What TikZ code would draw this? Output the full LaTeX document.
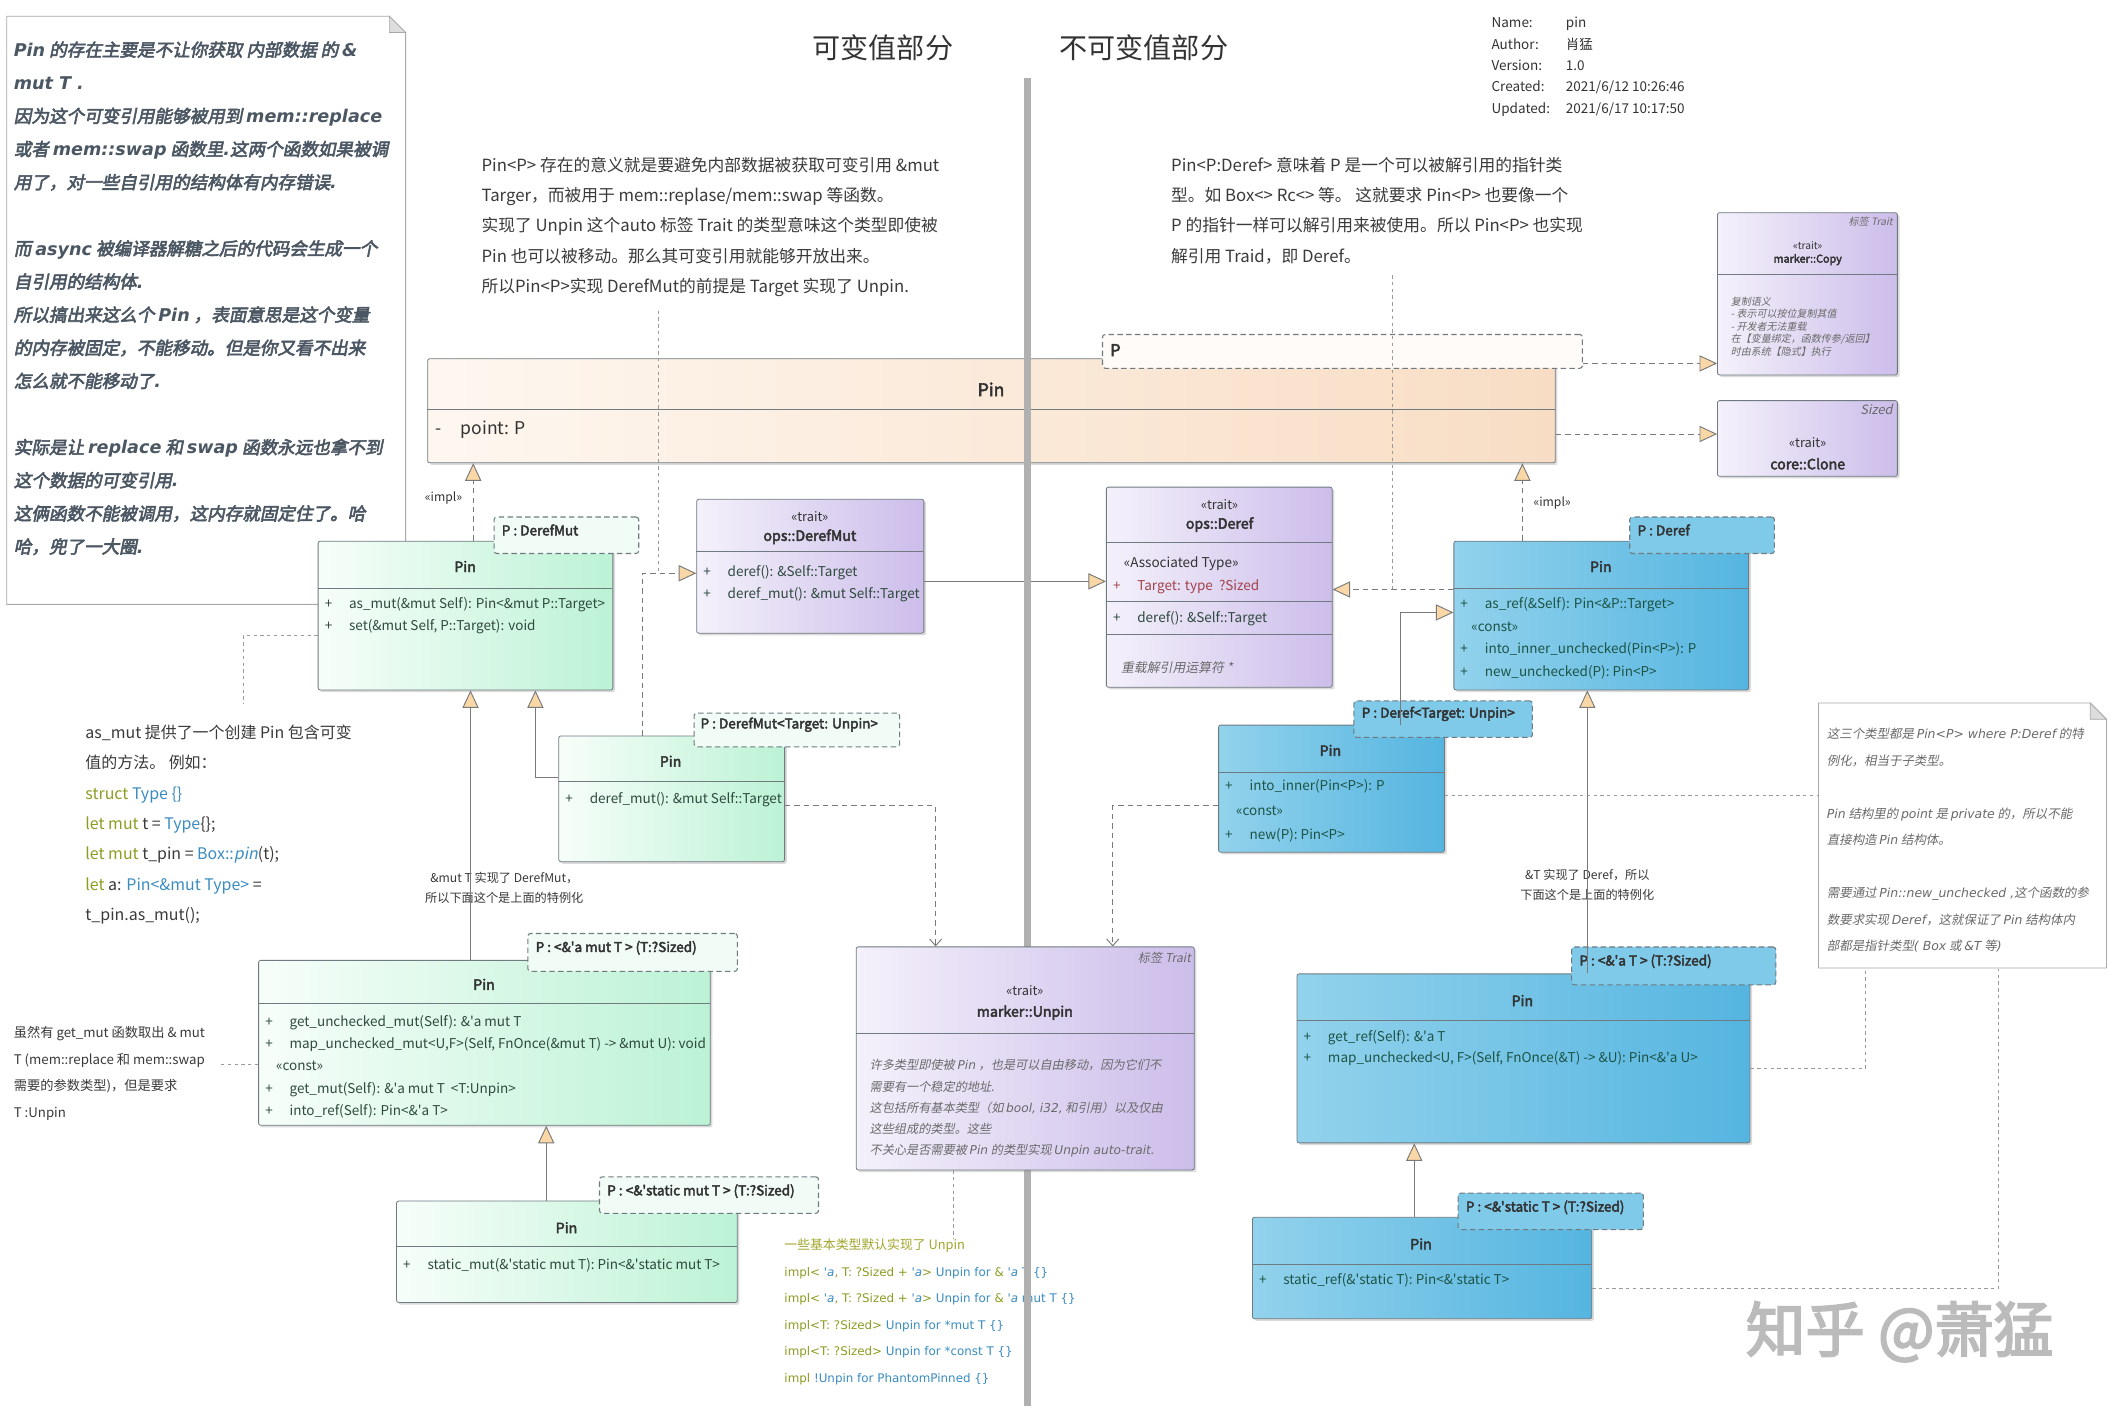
\documentclass[tikz,border=0pt]{standalone}
\usepackage{fontspec}
\setmainfont{Noto Sans CJK SC}[AutoFakeBold=3.2,AutoFakeSlant=0.2]
\newfontfamily\dvf{DejaVu Sans}
\usetikzlibrary{shadows,arrows.meta}
\definecolor{bord}{HTML}{6F7B80}
\definecolor{conn}{HTML}{7A7A7A}
\definecolor{notel}{HTML}{9A9A9A}
\definecolor{tri}{HTML}{FAD7A6}
\definecolor{titc}{HTML}{333333}
\definecolor{memc}{HTML}{2F4A3E}
\definecolor{bmemc}{HTML}{1D5446}
\definecolor{grnL}{HTML}{F7FEFA}
\definecolor{grnR}{HTML}{BCF2D5}
\definecolor{grnT}{HTML}{F1FCF6}
\definecolor{purL}{HTML}{F4F1FB}
\definecolor{purR}{HTML}{CCBDEA}
\definecolor{bluL}{HTML}{92D2EC}
\definecolor{bluR}{HTML}{55B5E0}
\definecolor{bluT}{HTML}{7FC9E9}
\definecolor{peaL}{HTML}{FEF7F0}
\definecolor{peaR}{HTML}{F8DDC4}
\definecolor{peaT}{HTML}{FEFBF8}
\definecolor{notetx}{HTML}{4B5763}
\definecolor{graytx}{HTML}{6A6A6A}
\definecolor{paratx}{HTML}{3A3A3A}
\definecolor{olive}{HTML}{8E9C22}
\definecolor{implY}{HTML}{A2A52A}
\definecolor{codeb}{HTML}{3A8CC1}
\definecolor{attrred}{HTML}{A3434B}
\definecolor{vgray}{HTML}{B0B0B0}
\definecolor{wmark}{HTML}{BBBBBB}
\definecolor{noteb}{HTML}{A8A8A8}
\definecolor{fold}{HTML}{DDDDDD}
\newcommand\fs[2]{\fontsize{#1}{#2}\selectfont}
\newcommand\q{\textquotesingle}
\newcommand\memtab[1]{\begin{tabular}{@{}p{18pt}@{}l@{}}#1\end{tabular}}
\newcommand\cstrow{\multicolumn{2}{@{\hspace{8pt}}l@{}}{«const»}}
\begin{document}
\begin{tikzpicture}[x=1pt,y=-1pt,
  cls/.style={draw=bord, line width=0.6pt, rounded corners=1.5pt, anchor=north west, inner sep=0pt,
    drop shadow={shadow xshift=1.6pt, shadow yshift=-1.6pt, opacity=0.35, fill=black!40}},
  grn/.style={cls, left color=grnL, right color=grnR},
  pur/.style={cls, left color=purL, right color=purR},
  blu/.style={cls, left color=bluL, right color=bluR},
  pea/.style={cls, left color=peaL, right color=peaR},
  tmpl/.style={draw=bord, line width=0.8pt, dash pattern=on 4pt off 2.5pt, rounded corners=2pt, anchor=north west, inner sep=0pt},
  div/.style={draw=bord, line width=0.6pt},
  ttl/.style={inner sep=0pt, font=\fs{10.5}{12}\bfseries, text=titc},
  ster/.style={inner sep=0pt, font=\fs{9.5}{11}, text=titc},
  tlab/.style={inner sep=0pt, anchor=west, font=\fs{10}{12}\bfseries, text=titc},
  mem/.style={inner sep=0pt, anchor=north west, font=\fs{10}{16.5}, text=memc},
  bmem/.style={mem, text=bmemc},
  gen/.style={draw=conn, line width=0.7pt, -{Triangle[length=13pt, width=12pt, fill=tri]}},
  implarr/.style={gen, dash pattern=on 4pt off 3pt},
  dep/.style={draw=conn, line width=0.7pt, dash pattern=on 4pt off 3pt, -{Straight Barb[length=5pt, width=9pt]}},
  nlink/.style={draw=notel, line width=0.6pt, dash pattern=on 2.5pt off 2.5pt},
  para/.style={inner sep=0pt, anchor=north west, align=left, text=paratx},
  lab/.style={inner sep=0pt, font=\fs{9}{15}, text=paratx, align=center}
]
\path[use as bounding box, fill=white] (0,0) rectangle (1568,1046);

% ---------- left note ----------
\node[inner sep=0pt, minimum width=295pt, minimum height=435pt, anchor=north west] (noteL) at (5,12) {};
\filldraw[fill=white, draw=noteb, line width=0.6pt] (5,12) -- (288,12) -- (300,24) -- (300,447) -- (5,447) -- cycle;
\filldraw[fill=fold, draw=noteb, line width=0.5pt] (288,12) -- (288,24) -- (300,24) -- cycle;
\node[para, font=\fs{13}{24.5}\bfseries\itshape, text=notetx] (noteLt) at (10,30.5) {%
{\dvf Pin} 的存在主要是不让你获取 内部数据 的 {\dvf \&}\\
{\dvf mut T .}\\
因为这个可变引用能够被用到 {\dvf mem::replace}\\
或者 {\dvf mem::swap} 函数里{\dvf .}这两个函数如果被调\\
用了，对一些自引用的结构体有内存错误{\dvf .}\\[24.5pt]
而 {\dvf async} 被编译器解糖之后的代码会生成一个\\
自引用的结构体{\dvf .}\\
所以搞出来这么个 {\dvf Pin} ，表面意思是这个变量\\
的内存被固定，不能移动。但是你又看不出来\\
怎么就不能移动了{\dvf .}\\[24.5pt]
实际是让 {\dvf replace} 和 {\dvf swap} 函数永远也拿不到\\
这个数据的可变引用{\dvf .}\\
这俩函数不能被调用，这内存就固定住了。哈\\
哈，兜了一大圈{\dvf .}};

% ---------- right note ----------
\node[inner sep=0pt, minimum width=213pt, minimum height=196pt, anchor=north west] (noteR) at (1345,520) {};
\filldraw[fill=white, draw=noteb, line width=0.6pt] (1345,520) -- (1546,520) -- (1558,532) -- (1558,716) -- (1345,716) -- cycle;
\filldraw[fill=fold, draw=noteb, line width=0.5pt] (1546,520) -- (1546,532) -- (1558,532) -- cycle;
\node[para, font=\fs{9.2}{19.6}\itshape, text=graytx] (noteRt) at (1351,538.4) {%
这三个类型都是 {\dvf Pin<P> where P:Deref} 的特\\
例化，相当于子类型。\\[19.6pt]
{\dvf Pin} 结构里的 {\dvf point} 是 {\dvf private} 的，所以不能\\
直接构造 {\dvf Pin} 结构体。\\[19.6pt]
需要通过 {\dvf Pin::new\_unchecked ,}这个函数的参\\
数要求实现 {\dvf Deref}，这就保证了 {\dvf Pin} 结构体内\\
部都是指针类型{\dvf ( Box} 或 {\dvf \&T} 等{\dvf )}};

% ---------- titles and header ----------
\node[inner sep=0pt, font=\fs{20.8}{24}, text=titc] (tmut) at (653,35) {可变值部分};
\node[inner sep=0pt, font=\fs{20.8}{24}, text=titc] (timm) at (846,35) {不可变值部分};
\node[para, font=\fs{10}{15.75}, text=titc] (hdrk) at (1103,12) {\vphantom{肖}Name:\\Author:\\Version:\\Created:\\Updated:};
\node[para, font=\fs{10}{15.75}, text=titc] (hdrv) at (1158,12) {\vphantom{肖}pin\\肖猛\\1.0\\2021/6/12 10:26:46\\2021/6/17 10:17:50};

% ---------- paragraphs ----------
\node[para, font=\fs{12.4}{22.5}] (paraL) at (356,115.8) {%
Pin<P> 存在的意义就是要避免内部数据被获取可变引用 \&mut\\
Targer，而被用于 mem::replase/mem::swap 等函数。\\
实现了 Unpin 这个auto 标签 Trait 的类型意味这个类型即使被\\
Pin 也可以被移动。那么其可变引用就能够开放出来。\\
所以Pin<P>实现 DerefMut的前提是 Target 实现了 Unpin.};
\node[para, font=\fs{12.4}{22.5}] (paraR) at (866,115.8) {%
Pin<P:Deref> 意味着 P 是一个可以被解引用的指针类\\
型。如 Box<> Rc<> 等。 这就要求 Pin<P> 也要像一个\\
P 的指针一样可以解引用来被使用。所以 Pin<P> 也实现\\
解引用 Traid，即 Deref。};

\node[para, font=\fs{11.8}{22.4}] (asmutT) at (63,536.1) {%
as\_mut 提供了一个创建 Pin 包含可变\\
值的方法。 例如：\\
{\color{olive}struct} {\color{codeb}Type \{\}}\\
{\color{olive}let mut} t = {\color{codeb}Type}\{\};\\
{\color{olive}let mut} t\_pin = {\color{codeb}Box::\textit{pin}}(t);\\
{\color{olive}let} a: {\color{codeb}Pin<\&mut Type>} =\\
t\_pin.as\_mut();};

\node[para, font=\fs{9.8}{19.6}] (getmutT) at (10,759.1) {%
虽然有 get\_mut 函数取出 \& mut\\
T (mem::replace 和 mem::swap\\
需要的参数类型)，但是要求\\
T :Unpin};

\node[lab] (labL) at (373,656.5) {\&mut T 实现了 DerefMut，\\所以下面这个是上面的特例化};
\node[lab] (labR) at (1174,654.5) {\&T 实现了 Deref，所以\\下面这个是上面的特例化};

\node[para, font=\fs{9.5}{19.6}] (implT) at (580,916.2) {%
{\color{implY}一些基本类型默认实现了 Unpin}\\
{\dvf\fs{8.8}{19.6}{\color{olive}impl< }{\color{codeb}\textit{\q a}}{\color{olive}, T: ?Sized + }{\color{codeb}\textit{\q a}}{\color{olive}>} {\color{codeb}Unpin for} {\color{olive}\&} {\color{codeb}\textit{\q a} T \{\}}}\\
{\dvf\fs{8.8}{19.6}{\color{olive}impl< }{\color{codeb}\textit{\q a}}{\color{olive}, T: ?Sized + }{\color{codeb}\textit{\q a}}{\color{olive}>} {\color{codeb}Unpin for} {\color{olive}\&} {\color{codeb}\textit{\q a} mut T \{\}}}\\
{\dvf\fs{8.8}{19.6}{\color{olive}impl<T: ?Sized>} {\color{codeb}Unpin for *mut T \{\}}}\\
{\dvf\fs{8.8}{19.6}{\color{olive}impl<T: ?Sized>} {\color{codeb}Unpin for *const T \{\}}}\\
{\dvf\fs{8.8}{19.6}{\color{olive}impl} {\color{codeb}!Unpin for PhantomPinned \{\}}}};

% ---------- big Pin ----------
\node[pea, minimum width=834pt, minimum height=77pt] (bigpin) at (316,265) {};
\draw[div] (316,303) -- (1150,303);
\node[ttl, font=\fs{13}{15}\bfseries] (bigpinT) at (733,288) {Pin};
\node[inner sep=0pt, anchor=west, font=\fs{13}{15}, text=titc] (bigpinA) at (322,318) {-\hspace{14pt}point: P};
\node[tmpl, fill=peaT, minimum width=355pt, minimum height=25pt] (ptm) at (815,247) {};
\node[tlab, font=\fs{12}{14}\bfseries] (ptmT) at (821,259) {P};

% ---------- marker::Copy / core::Clone ----------
\node[pur, minimum width=133pt, minimum height=120pt] (copy) at (1270,157) {};
\draw[div] (1270,203) -- (1403,203);
\node[inner sep=0pt, anchor=north east, font=\fs{7.5}{9}\itshape, text=graytx] (copyS) at (1400,160) {标签 Trait};
\node[ster, font=\fs{7.5}{9}] (copyST) at (1337,182) {«trait»};
\node[ttl, font=\fs{8}{9}\bfseries] (copyT) at (1337,192) {marker::Copy};
\node[para, font=\fs{7.4}{9.3}\itshape, text=graytx] (copyB) at (1280,219.3) {复制语义\\- 表示可以按位复制其值\\- 开发者无法重载\\在【变量绑定，函数传参/返回】\\时由系统【隐式】执行};

\node[pur, minimum width=133pt, minimum height=56pt] (clone) at (1270,296) {};
\node[inner sep=0pt, anchor=north east, font=\fs{9.5}{11}\itshape, text=graytx] (cloneS) at (1400,299) {Sized};
\node[ster] (cloneST) at (1337,327) {«trait»};
\node[ttl] (cloneT) at (1337,343) {core::Clone};

% ---------- Pin as_mut ----------
\node[grn, minimum width=218pt, minimum height=110pt] (pinAM) at (235,400) {};
\draw[div] (235,435) -- (453,435);
\node[ttl] (pinAMt) at (344,419) {Pin};
\node[mem] (pinAMm) at (240,438.3) {\memtab{+ & as\_mut(\&mut Self): Pin<\&mut P::Target>\\+ & set(\&mut Self, P::Target): void}};
\node[tmpl, fill=grnT, minimum width=107pt, minimum height=27pt] (pinAMp) at (365,382) {};
\node[tlab] (pinAMpt) at (371,392) {P : DerefMut};

% ---------- ops::DerefMut ----------
\node[pur, minimum width=168pt, minimum height=99pt] (dmut) at (515,369) {};
\node[ster] (dmutST) at (599,382) {«trait»};
\node[ttl] (dmutT) at (599,397) {ops::DerefMut};
\draw[div] (515,408) -- (683,408);
\node[mem] (dmutM) at (520,414.3) {\memtab{+ & deref(): \&Self::Target\\+ & deref\_mut(): \&mut Self::Target}};

% ---------- ops::Deref ----------
\node[pur, minimum width=167pt, minimum height=148pt] (deref) at (818,360) {};
\node[ster] (derefST) at (902,373) {«trait»};
\node[ttl] (derefT) at (902,388) {ops::Deref};
\draw[div] (818,401) -- (985,401);
\node[mem, anchor=west, text=titc] (derefAT) at (831,417) {«Associated Type»};
\node[mem, text=attrred] (derefA) at (823,425.3) {\memtab{+ & Target: type\ \ ?Sized}};
\draw[div] (818,445) -- (985,445);
\node[mem] (derefM) at (823,448.3) {\memtab{+ & deref(): \&Self::Target}};
\draw[div] (818,469) -- (985,469);
\node[inner sep=0pt, anchor=west, font=\fs{9.5}{11}\itshape, text=graytx] (derefN) at (829,494) {重载解引用运算符 *};

% ---------- Pin as_ref (blue) ----------
\node[blu, minimum width=218pt, minimum height=110pt] (pinAR) at (1075,400) {};
\draw[div] (1075,435) -- (1293,435);
\node[ttl] (pinARt) at (1184,419) {Pin};
\node[bmem, font=\fs{10}{16.7}] (pinARm) at (1080,438.3) {\memtab{+ & as\_ref(\&Self): Pin<\&P::Target>\\\cstrow\\+ & into\_inner\_unchecked(Pin<P>): P\\+ & new\_unchecked(P): Pin<P>}};
\node[tmpl, fill=bluT, minimum width=107pt, minimum height=27pt] (pinARp) at (1205,382) {};
\node[tlab] (pinARpt) at (1211,392) {P : Deref};

% ---------- Pin into_inner (blue) ----------
\node[blu, minimum width=167pt, minimum height=94pt] (pinII) at (901,536) {};
\draw[div] (901,571) -- (1068,571);
\node[ttl] (pinIIt) at (984,555) {Pin};
\node[bmem, font=\fs{10}{18}] (pinIIm) at (906,572.2) {\memtab{+ & into\_inner(Pin<P>): P\\\cstrow\\+ & new(P): Pin<P>}};
\node[tmpl, fill=bluT, minimum width=132pt, minimum height=27pt] (pinIIp) at (1001,518) {};
\node[tlab] (pinIIpt) at (1007,528) {P : Deref<Target: Unpin>};

% ---------- Pin deref_mut (green) ----------
\node[grn, minimum width=167pt, minimum height=93pt] (pinDM) at (413,544) {};
\draw[div] (413,578) -- (580,578);
\node[ttl] (pinDMt) at (496,563) {Pin};
\node[mem] (pinDMm) at (418,582.3) {\memtab{+ & deref\_mut(): \&mut Self::Target}};
\node[tmpl, fill=grnT, minimum width=152pt, minimum height=25pt] (pinDMp) at (513,527) {};
\node[tlab] (pinDMpt) at (518,536) {P : DerefMut<Target: Unpin>};

% ---------- Pin get_unchecked_mut (green) ----------
\node[grn, minimum width=334pt, minimum height=122pt] (pinGU) at (191,710) {};
\draw[div] (191,742) -- (525,742);
\node[ttl] (pinGUt) at (358,728) {Pin};
\node[mem] (pinGUm) at (196,747.3) {\memtab{+ & get\_unchecked\_mut(Self): \&\q a mut T\\+ & map\_unchecked\_mut<U,F>(Self, FnOnce(\&mut T) -> \&mut U): void\\\cstrow\\+ & get\_mut(Self): \&\q a mut T\ \ <T:Unpin>\\+ & into\_ref(Self): Pin<\&\q a T>}};
\node[tmpl, fill=grnT, minimum width=155pt, minimum height=28pt] (pinGUp) at (390,690) {};
\node[tlab] (pinGUpt) at (396,701) {P : <\&\q a mut T > (T:?Sized)};

% ---------- Pin static_mut (green) ----------
\node[grn, minimum width=252pt, minimum height=75pt] (pinSM) at (293,888) {};
\draw[div] (293,922) -- (545,922);
\node[ttl] (pinSMt) at (419,908) {Pin};
\node[mem] (pinSMm) at (298,927.3) {\memtab{+ & static\_mut(\&\q static mut T): Pin<\&\q static mut T>}};
\node[tmpl, fill=grnT, minimum width=162pt, minimum height=27pt] (pinSMp) at (443,870) {};
\node[tlab] (pinSMpt) at (449,881) {P : <\&\q static mut T > (T:?Sized)};

% ---------- Pin get_ref (blue) ----------
\node[blu, minimum width=335pt, minimum height=125pt] (pinGR) at (959,720) {};
\draw[div] (959,755) -- (1294,755);
\node[ttl] (pinGRt) at (1126,740) {Pin};
\node[bmem, font=\fs{10}{16}] (pinGRm) at (964,758.6) {\memtab{+ & get\_ref(Self): \&\q a T\\+ & map\_unchecked<U, F>(Self, FnOnce(\&T) -> \&U): Pin<\&\q a U>}};
\node[tmpl, fill=bluT, minimum width=151pt, minimum height=28pt] (pinGRp) at (1162,700) {};
\node[tlab] (pinGRpt) at (1168,711) {P : <\&\q a T > (T:?Sized)};

% ---------- Pin static_ref (blue) ----------
\node[blu, minimum width=251pt, minimum height=75pt] (pinSR) at (926,900) {};
\draw[div] (926,935) -- (1177,935);
\node[ttl] (pinSRt) at (1051,920) {Pin};
\node[bmem] (pinSRm) at (931,938.3) {\memtab{+ & static\_ref(\&\q static T): Pin<\&\q static T>}};
\node[tmpl, fill=bluT, minimum width=137pt, minimum height=27pt] (pinSRp) at (1078,882) {};
\node[tlab] (pinSRpt) at (1084,893) {P : <\&\q static T > (T:?Sized)};

% ---------- marker::Unpin position ----------
\path (633,700) coordinate (unpinNW);

% ---------- connectors ----------
\path (pinAM.north west) ++(115,0) coordinate (a1);
\draw[implarr] (a1) -- (a1 |- bigpin.south);
\node[ster, font=\fs{9}{11}] (impl1) at (328,368) {«impl»};
\path (pinAR.north west) ++(51,0) coordinate (a2);
\draw[implarr] (a2) -- (a2 |- bigpin.south);
\node[ster, font=\fs{9}{11}] (impl2) at (1148,372) {«impl»};
\path (ptm.south east) ++(0,-4) coordinate (a3);
\draw[implarr] (a3) -- (a3 -| copy.west);
\path (bigpin.north east) ++(0,56) coordinate (a4);
\draw[implarr] (a4) -- (a4 -| clone.west);
\path (pinDM.north west) ++(62,0) coordinate (a5);
\path (dmut.north west) ++(0,55) coordinate (a5e);
\draw[implarr] (a5) |- (a5e);
\path (dmut.north east) ++(0,61) coordinate (a6);
\draw[gen] (a6) -- (a6 -| deref.west);
\path (pinAR.north west) ++(0,36) coordinate (a7);
\draw[implarr] (a7) -- (a7 -| deref.east);
\path (pinII.north west) ++(135,0) coordinate (a8);
\path (pinAR.north west) ++(0,53) coordinate (a8e);
\draw[gen] (a8) |- (a8e);
\path (pinDM.north west) ++(0,31) coordinate (a9);
\path (pinAM.south west) ++(161,0) coordinate (a9e);
\draw[gen] (a9) -| (a9e);
\path (pinGU.north west) ++(157,0) coordinate (a10);
\draw[gen] (a10) -- (a10 |- pinAM.south);
\path (pinSM.north west) ++(111,0) coordinate (a11);
\draw[gen] (a11) -- (a11 |- pinGU.south);
\path (pinGR.north west) ++(215,0) coordinate (a12);
\draw[gen] (a12) -- (a12 |- pinAR.south);
\path (pinSR.north west) ++(120,0) coordinate (a13);
\draw[gen] (a13) -- (a13 |- pinGR.south);
\path (pinDM.north east) ++(0,52) coordinate (a14);
\path (unpinNW) ++(59,0) coordinate (a14e);
\draw[dep] (a14) -| (a14e);
\path (pinII.north west) ++(0,60) coordinate (a15);
\path (unpinNW) ++(190,0) coordinate (a15e);
\draw[dep] (a15) -| (a15e);

% note links
\path (paraL.south west) ++(131,10) coordinate (n1);
\draw[nlink] (n1) -- (n1 |- a5e);
\path (paraR.south west) ++(164,8) coordinate (n2);
\draw[nlink] (n2) -- (n2 |- a7);
\path (pinAM.north west) ++(0,70) coordinate (n3);
\path (asmutT.north west) ++(117,-16) coordinate (n3e);
\draw[nlink] (n3) -| (n3e);
\path (pinGU.north west) ++(0,77) coordinate (n4);
\path (getmutT.north west) ++(152,0) coordinate (n4e);
\draw[nlink] (n4) -- (n4 -| n4e);
\path (pinII.north east) ++(0,52) coordinate (n6);
\draw[nlink] (n6) -- (n6 -| noteR.west);
\path (pinGR.north east) ++(0,70) coordinate (n7);
\path (noteR.south west) ++(35,0) coordinate (n7e);
\draw[nlink] (n7) -| (n7e);
\path (pinSR.north east) ++(0,53) coordinate (n8);
\path (noteR.south west) ++(133,0) coordinate (n8e);
\draw[nlink] (n8) -| (n8e);

% ---------- vertical divider ----------
\draw[line width=5pt, vgray] (760,58) -- (760,1040);

% ---------- marker::Unpin ----------
\node[pur, minimum width=250pt, minimum height=165pt] (unpin) at (unpinNW) {};
\draw[div] (633,764) -- (883,764);
\node[inner sep=0pt, anchor=north east, font=\fs{9}{11}\itshape, text=graytx] (unpinS) at (881,704) {标签 Trait};
\node[ster] (unpinST) at (758,733) {«trait»};
\node[ttl] (unpinT) at (758,749) {marker::Unpin};
\node[para, font=\fs{9}{15.7}\itshape, text=graytx] (unpinB) at (643,783.5) {%
许多类型即使被 {\dvf Pin} ，也是可以自由移动，因为它们不\\
需要有一个稳定的地址{\dvf .}\\
这包括所有基本类型（如 {\dvf bool, i32,} 和引用）以及仅由\\
这些组成的类型。这些\\
不关心是否需要被 {\dvf Pin} 的类型实现 {\dvf Unpin auto-trait.}};
\path (unpin.south west) ++(72,0) coordinate (n5);
\draw[nlink] (n5) -- (n5 |- implT.north);

% ---------- watermark ----------
\node[inner sep=0pt, font=\fs{44}{50}\bfseries, text=wmark] (wm) at (1405,985) {知乎 @萧猛};
\end{tikzpicture}
\end{document}
